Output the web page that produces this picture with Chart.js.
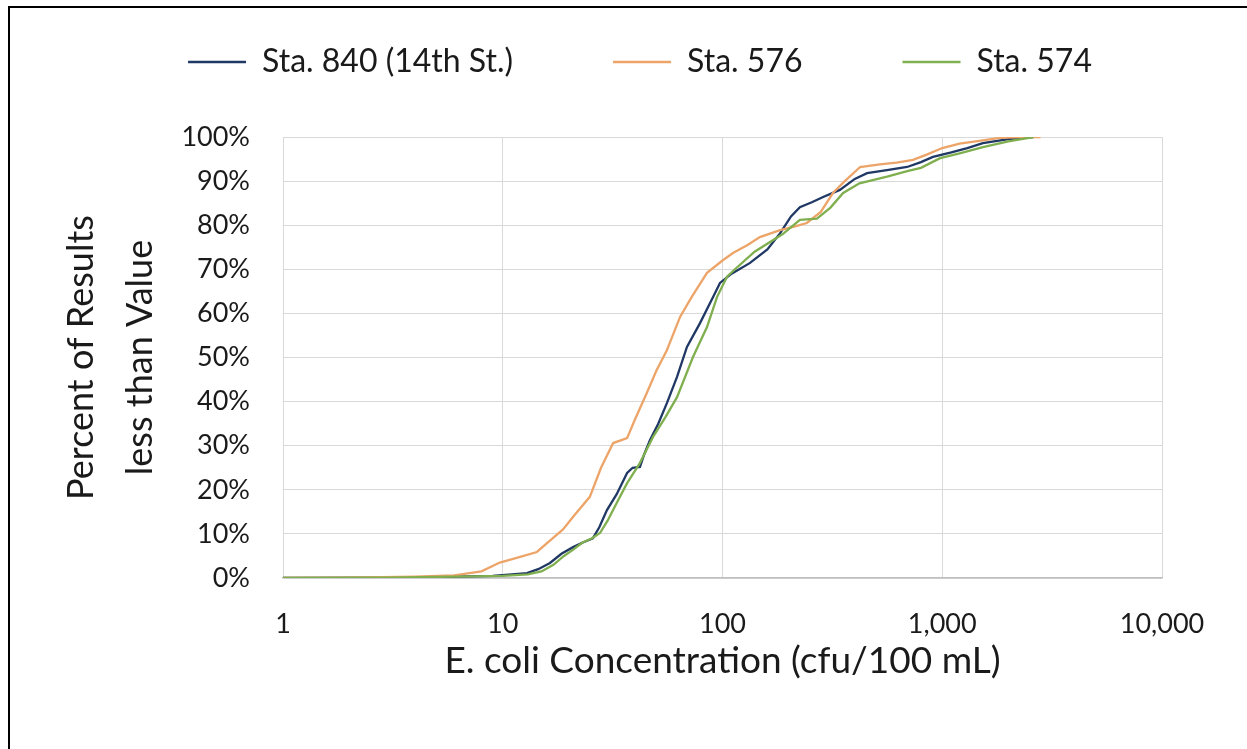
<!DOCTYPE html>
<html>
<head>
<meta charset="utf-8">
<script src="https://cdn.jsdelivr.net/npm/chart.js@4.4.1/dist/chart.umd.min.js"></script>
<style>
  html, body { margin: 0; padding: 0; background: #fff; }
  #wrap { position: relative; width: 1247px; height: 749px; }
  #frame {
    position: absolute; left: 8px; top: 6px; right: 0; bottom: 0;
    border-left: 2px solid #000; border-top: 2px solid #000;
    pointer-events: none;
  }
</style>
</head>
<body>
<div id="wrap">
  <canvas id="chart" width="1247" height="749"></canvas>
  <div id="frame"></div>
</div>
<script>
const xTicks = [1, 10, 100, 1000, 10000];

const seriesNames = ["Sta. 840 (14th St.)", "Sta. 576", "Sta. 574"];
const seriesColors = ["#203864", "#EDA468", "#7FAF4E"];

// Sta. 840 (14th St.)
const sta840X = [1, 3, 6, 9, 11, 12.9, 14.5, 16.4, 18.5, 20.9, 23, 25.7, 27.5, 29.8, 33, 36.8, 39, 42.1, 44, 46.8, 51, 55.9, 62.1, 68.9, 79, 90.6, 97.4, 110, 133, 160, 183, 205, 225, 255, 287, 342, 400, 455, 560, 692, 800, 907, 1100, 1300, 1531, 2000, 2600];
const sta840Y = [0, 0.1, 0.3, 0.5, 0.8, 1.1, 2, 3.4, 5.5, 7, 8, 9, 11.5, 15.4, 19, 23.8, 25, 25.2, 28, 31.3, 35, 39.7, 45.6, 52.4, 57.8, 63.7, 66.9, 69, 71.4, 74.5, 78.2, 82, 84.1, 85.2, 86.4, 88, 90.5, 91.8, 92.5, 93.2, 94.3, 95.5, 96.5, 97.5, 98.6, 99.5, 100];

// Sta. 576
const sta576X = [1, 2, 4, 6, 8, 9.7, 12, 14.3, 16, 18.8, 21, 24.9, 28, 31.8, 36.8, 40, 45.3, 50, 55.9, 64.1, 72, 85, 100, 111.6, 130, 148, 182.8, 210, 242, 280, 318, 360, 423, 520, 620, 736, 850, 1000, 1200, 1500, 1833, 2300, 2800];
const sta576Y = [0, 0.1, 0.3, 0.6, 1.5, 3.5, 4.8, 5.9, 8, 11, 14, 18.4, 25, 30.6, 31.7, 36, 42, 47, 51.7, 59.2, 63.5, 69.2, 72, 73.7, 75.5, 77.3, 78.9, 79.6, 80.5, 83, 87.3, 90, 93.2, 93.8, 94.2, 94.8, 96, 97.5, 98.5, 99.2, 99.8, 100, 100];

// Sta. 574
const sta574X = [1, 3, 6, 10, 13, 15, 17, 19, 21, 23, 25.5, 27.7, 30, 33, 36.8, 42, 48.3, 55, 62.1, 73.4, 85, 94.4, 104.8, 111, 140, 188, 225, 269, 310, 354, 420, 561, 700, 800, 978, 1200, 1531, 2000, 2600];
const sta574Y = [0, 0.1, 0.3, 0.5, 0.8, 1.5, 3, 5, 6.5, 8, 9, 10.2, 13, 17, 21.5, 26, 32, 36.5, 41, 50.1, 56.9, 63.7, 68.3, 69.5, 74, 78, 81.2, 81.5, 84, 87.3, 89.5, 91, 92.3, 93, 95.2, 96.3, 97.7, 99, 100];

const FONT = "Lato, 'Open Sans', sans-serif";

function toPoints(xs, ys) {
  return xs.map((x, i) => ({ x, y: ys[i] / 100 }));
}

function lineDataset(index, xs, ys, order) {
  return {
    label: seriesNames[index],
    data: toPoints(xs, ys),
    borderColor: seriesColors[index],
    backgroundColor: seriesColors[index],
    borderWidth: 2.3,
    pointRadius: 0,
    showLine: true,
    tension: 0,
    order,
  };
}

// legend sits higher than Chart.js would put it and is centred over the plot
const legendPlacer = {
  id: "legendPlacer",
  beforeLayout(chart) {
    const legend = chart.legend;
    if (legend && !legend._placed) {
      const fit = legend.fit;
      legend.fit = function () {
        fit.call(this);
        this.height = 137;
      };
      legend._placed = true;
    }
  },
  afterLayout(chart) {
    const legend = chart.legend;
    legend.top -= 54;
    legend.bottom -= 54;
    legend.left += 33;
    legend.right += 33;
  },
};

new Chart(document.getElementById("chart"), {
  type: "scatter",
  data: {
    datasets: [
      lineDataset(0, sta840X, sta840Y, 2),
      lineDataset(1, sta576X, sta576Y, 1),
      lineDataset(2, sta574X, sta574Y, 0),
    ],
  },
  options: {
    responsive: false,
    animation: false,
    layout: { padding: { left: 52, right: 85, top: 0, bottom: 0 } },
    plugins: {
      tooltip: { enabled: false },
      legend: {
        position: "top",
        labels: {
          usePointStyle: true,
          pointStyle: "line",
          pointStyleWidth: 58,
          padding: 100,
          color: "#1a1a1a",
          font: { family: FONT, size: 32 },
          sort: (a, b) => a.datasetIndex - b.datasetIndex,
        },
      },
    },
    scales: {
      x: {
        type: "logarithmic",
        min: 1,
        max: 10000,
        afterBuildTicks(scale) {
          scale.ticks = xTicks.map((value) => ({ value }));
        },
        afterFit(scale) {
          scale.height = 749 - 578;
        },
        grid: { color: "#D9D9D9", drawTicks: false },
        border: { color: "#BFBFBF", width: 1.5 },
        ticks: {
          padding: 30,
          color: "#1a1a1a",
          font: { family: FONT, size: 27 },
          maxRotation: 0,
          callback(value) {
            return Number(value).toLocaleString("en-US");
          },
        },
        title: {
          display: true,
          text: "E. coli Concentration (cfu/100 mL)",
          color: "#1a1a1a",
          font: { family: FONT, size: 37 },
          padding: { top: 0, bottom: 66 },
        },
      },
      y: {
        min: 0,
        max: 1,
        afterFit(scale) {
          scale.width = 283 - 52;
        },
        grid: { color: "#D9D9D9", drawTicks: false },
        border: { color: "#D9D9D9" },
        ticks: {
          stepSize: 0.1,
          padding: 33,
          color: "#1a1a1a",
          font: { family: FONT, size: 27 },
          callback(value) {
            return `${Math.round(value * 100)}%`;
          },
        },
        title: {
          display: true,
          text: ["Percent of Results", "less than Value"],
          color: "#1a1a1a",
          font: { family: FONT, size: 36, lineHeight: 1.64 },
          padding: { top: 0, bottom: 0 },
        },
      },
    },
  },
  plugins: [legendPlacer],
});
</script>
</body>
</html>
